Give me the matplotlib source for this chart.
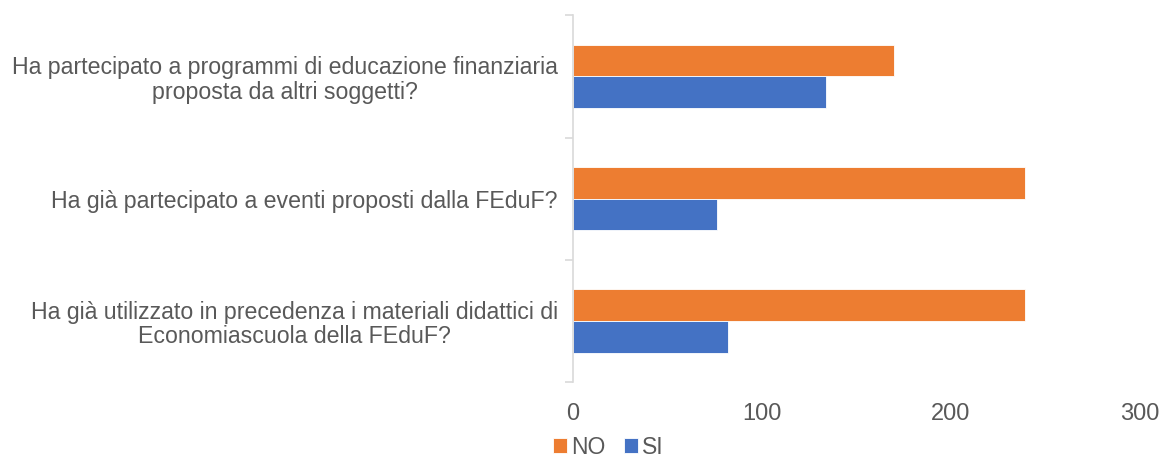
import matplotlib
matplotlib.use("Agg")
import matplotlib.pyplot as plt
import numpy as np

plt.rcParams['font.family'] = ['Liberation Sans', 'DejaVu Sans']

categories = [
    "Ha partecipato a programmi di educazione finanziaria\nproposta da altri soggetti?",
    "Ha già partecipato a eventi proposti dalla FEduF?",
    "Ha già utilizzato in precedenza i materiali didattici di\nEconomiascuola della FEduF?",
]
no_vals = [170, 239, 239]
si_vals = [134, 76, 82]
x_ticks = [0, 100, 200, 300]

text_col = "#595959"
fig = plt.figure(figsize=(11.7, 4.61), dpi=100)
ax = fig.add_axes([0.4897, 0.171, 0.4847, 0.796])

y = np.arange(len(categories))[::-1]
h = 0.26
ax.barh(y + h / 2, no_vals, height=h, color="#ED7D31", edgecolor="white", linewidth=0.6, label="NO")
ax.barh(y - h / 2, si_vals, height=h, color="#4472C4", edgecolor="white", linewidth=0.6, label="SI")

ax.set_xlim(0, 300)
ax.set_ylim(-0.5, len(categories) - 0.5)
ax.set_xticks(x_ticks)
ax.set_xticklabels([str(t) for t in x_ticks], fontsize=17, color=text_col)
ax.tick_params(axis="x", length=0, pad=15)

ax.set_yticks(y)
ax.set_yticklabels(categories, fontsize=16.7, color=text_col, ha="right", multialignment="center",
                   linespacing=1.1)
ax.tick_params(axis="y", which="major", length=0, pad=11)
ax.set_yticks(np.arange(-0.5, len(categories), 1.0), minor=True)
ax.tick_params(axis="y", which="minor", length=6, color="#D9D9D9", width=1.2)

for s in ["top", "right", "bottom"]:
    ax.spines[s].set_visible(False)
ax.spines["left"].set_color("#D9D9D9")
ax.spines["left"].set_linewidth(1.2)

fig.legend(loc="lower center", bbox_to_anchor=(0.52, -0.04), ncol=2, frameon=False,
           fontsize=16.5, handlelength=0.6, handleheight=0.6, handletextpad=0.2,
           columnspacing=0.8, labelcolor=text_col)

fig.savefig("out.png", dpi=100)
